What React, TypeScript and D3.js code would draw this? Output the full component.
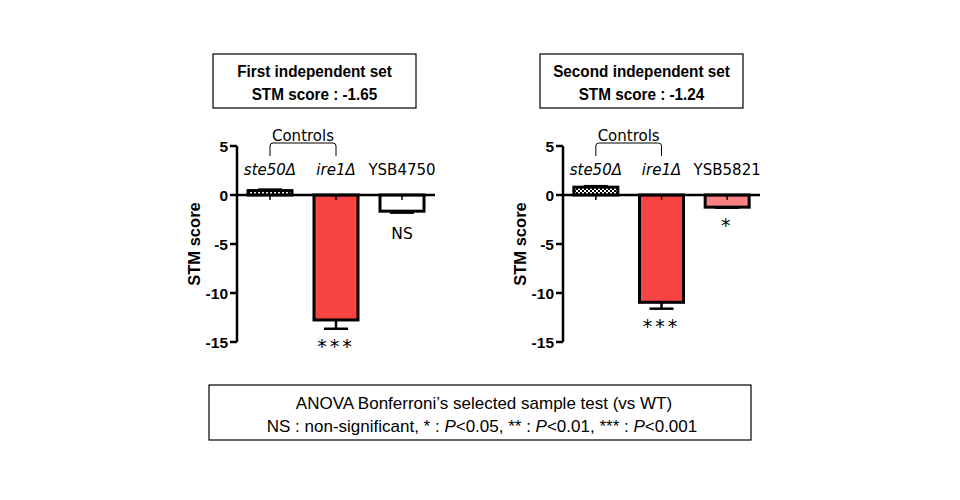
import * as d3 from 'd3'

// panel 1 (first independent set)
const strains1 = ['ste50Δ', 'ire1Δ', 'YSB4750']
const values1 = [0.45, -12.75, -1.65]
const errors1 = [0.1, 0.9, 0.15]
const signif1 = ['', '***', 'NS']

// panel 2 (second independent set)
const strains2 = ['ste50Δ', 'ire1Δ', 'YSB5821']
const values2 = [0.8, -10.95, -1.24]
const errors2 = [0.1, 0.65, 0.05]
const signif2 = ['', '***', '*']

const yTicks = [5, 0, -5, -10, -15]
const titles = [
  ['First independent set', 'STM score : -1.65'],
  ['Second independent set', 'STM score : -1.24'],
]

const tahoma = '"DejaVu Sans", Verdana, sans-serif'
const arial = '"Liberation Sans", Arial, sans-serif'

// narrow (calibri-like) bold title text: squeeze the glyphs a bit
function Narrow({ x, y, size, children }: any) {
  return (
    <text
      transform={`translate(${x},${y}) scale(0.9,1)`}
      textAnchor="middle"
      fontFamily={arial}
      fontWeight="bold"
      fontSize={size}
    >
      {children}
    </text>
  )
}

type PanelProps = {
  strains: string[]
  values: number[]
  errors: number[]
  signif: string[]
  fills: string[]
  x0: number
  x1: number
  title: string[]
  boxX: number
}

function Panel({ strains, values, errors, signif, fills, x0, x1, title, boxX }: PanelProps) {
  const y = d3.scaleLinear([-15, 5], [342, 146])
  const x = d3.scalePoint(strains, [x0, x1]).padding(0.5)
  const bw = 44
  const cx = (i: number) => x(strains[i]) as number

  return (
    <g>
      {/* title box */}
      <rect x={boxX} y={54} width={203} height={54} fill="white" stroke="black" strokeWidth={1.2} />
      <Narrow x={boxX + 101.5} y={77} size={17}>
        {title[0]}
      </Narrow>
      <Narrow x={boxX + 101.5} y={100} size={17}>
        {title[1]}
      </Narrow>

      {/* bars */}
      {values.map((v, i) => (
        <rect
          key={i}
          x={cx(i) - bw / 2}
          y={y(Math.max(0, v))}
          width={bw}
          height={Math.abs(y(v) - y(0))}
          fill={fills[i]}
          stroke="black"
          strokeWidth={3}
        />
      ))}

      {/* error bars */}
      {values.map((v, i) => {
        const end = v < 0 ? v - errors[i] : v + errors[i]
        return (
          <g key={i} stroke="black" strokeWidth={2.5}>
            <line x1={cx(i)} x2={cx(i)} y1={y(v)} y2={y(end)} />
            <line x1={cx(i) - 12} x2={cx(i) + 12} y1={y(end)} y2={y(end)} />
          </g>
        )
      })}

      {/* y axis */}
      <line x1={x0} x2={x0} y1={y(5)} y2={y(-15)} stroke="black" strokeWidth={2.5} />
      {yTicks.map((t) => (
        <g key={t}>
          <line x1={x0 - 7} x2={x0} y1={y(t)} y2={y(t)} stroke="black" strokeWidth={2.5} />
          <text x={x0 - 9} y={y(t) + 5.5} textAnchor="end" fontFamily={arial} fontWeight="bold" fontSize={15.5}>
            {t}
          </text>
        </g>
      ))}
      <text
        transform={`translate(${x0 - 37},${y(-5)}) rotate(-90)`}
        textAnchor="middle"
        fontFamily={arial}
        fontWeight="bold"
        fontSize={16.5}
      >
        STM score
      </text>

      {/* x axis */}
      <line x1={x0} x2={x1} y1={y(0)} y2={y(0)} stroke="black" strokeWidth={2.5} />
      {strains.map((s, i) => (
        <line key={s} x1={cx(i)} x2={cx(i)} y1={y(0)} y2={y(0) + 5} stroke="black" strokeWidth={1.5} />
      ))}

      {/* category labels */}
      {strains.map((s, i) => (
        <text
          key={s}
          x={cx(i)}
          y={175}
          textAnchor="middle"
          fontFamily={tahoma}
          fontSize={15}
          fontStyle={s.startsWith('YSB') ? 'normal' : 'italic'}
        >
          {s}
        </text>
      ))}

      {/* controls bracket */}
      <path
        d={`M${cx(0)},156 V146 Q${cx(0)},143 ${cx(0) + 3},143 H${cx(1) - 3} Q${cx(1)},143 ${cx(1)},146 V156`}
        fill="none"
        stroke="black"
        strokeWidth={1}
      />
      <text x={(cx(0) + cx(1)) / 2} y={141} textAnchor="middle" fontFamily={tahoma} fontSize={15}>
        Controls
      </text>

      {/* significance */}
      {signif.map((s, i) => {
        if (!s) return null
        const end = values[i] - errors[i]
        const isStar = s.includes('*')
        return (
          <text
            key={i}
            x={cx(i)}
            y={y(end) + (isStar ? 24 : 26)}
            textAnchor="middle"
            fontFamily={tahoma}
            fontSize={isStar ? 19 : 15.5}
            letterSpacing={isStar ? 3 : 0}
          >
            {s}
          </text>
        )
      })}
    </g>
  )
}

export default function App() {
  return (
    <svg width={960} height={500} style={{ position: 'absolute', left: 0, top: 0, background: 'white' }}>
      <defs>
        <pattern id="check" width={4} height={4} patternUnits="userSpaceOnUse">
          <rect width={4} height={4} fill="white" />
          <rect width={2} height={2} fill="black" />
          <rect x={2} y={2} width={2} height={2} fill="black" />
        </pattern>
      </defs>
      <Panel
        strains={strains1}
        values={values1}
        errors={errors1}
        signif={signif1}
        fills={['url(#check)', '#f94444', 'white']}
        x0={237}
        x1={435}
        title={titles[0]}
        boxX={213}
      />
      <Panel
        strains={strains2}
        values={values2}
        errors={errors2}
        signif={signif2}
        fills={['url(#check)', '#f94444', '#f98282']}
        x0={563}
        x1={760}
        title={titles[1]}
        boxX={540}
      />
      {/* footnote box */}
      <rect x={209} y={385} width={542} height={55} fill="white" stroke="black" strokeWidth={1.2} />
      <text x={484} y={409} textAnchor="middle" fontFamily={arial} fontSize={17}>
        ANOVA Bonferroni’s selected sample test (vs WT)
      </text>
      <text x={482} y={432} textAnchor="middle" fontFamily={arial} fontSize={17}>
        NS : non-significant, * : <tspan fontStyle="italic">P</tspan>&lt;0.05, ** :{' '}
        <tspan fontStyle="italic">P</tspan>&lt;0.01, *** : <tspan fontStyle="italic">P</tspan>&lt;0.001
      </text>
    </svg>
  )
}
